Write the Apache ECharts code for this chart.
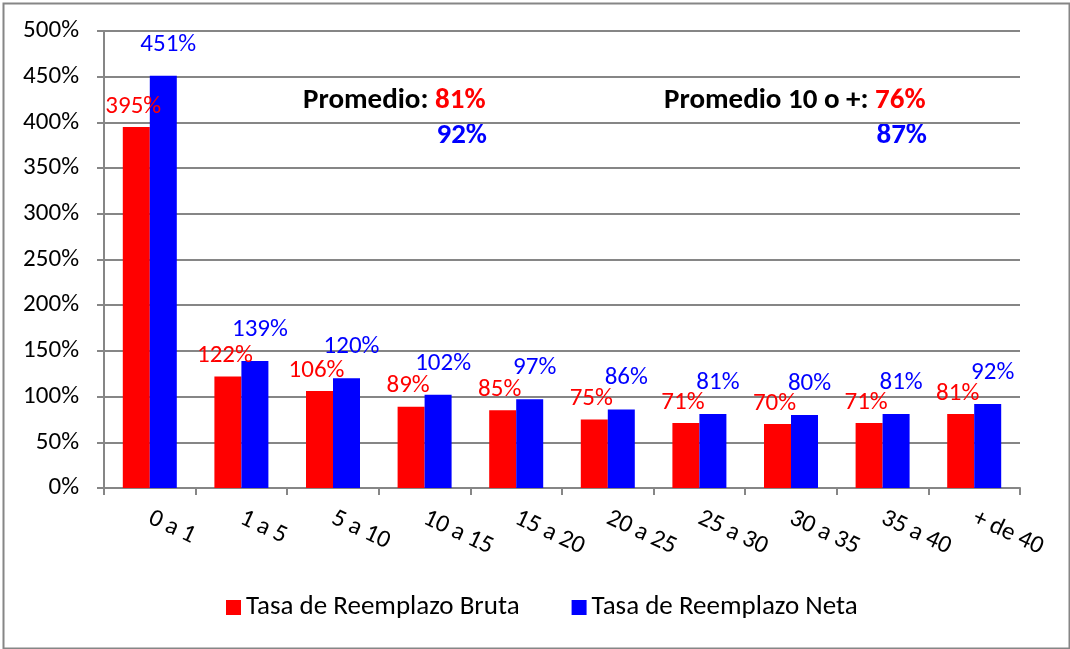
<!DOCTYPE html>
<html>
<head>
<meta charset="utf-8">
<script src="https://cdn.jsdelivr.net/npm/echarts@6/dist/echarts.min.js"></script>
<style>
  html, body { margin: 0; padding: 0; background: #fff; }
  #chart { width: 1070px; height: 649px; }
</style>
</head>
<body>
<div id="chart"></div>
<script>
  // tramos de años cotizados
  var categories = ['0 a 1', '1 a 5', '5 a 10', '10 a 15', '15 a 20', '20 a 25', '25 a 30', '30 a 35', '35 a 40', '+ de 40'];
  var brutaValues = [395, 122, 106, 89, 85, 75, 71, 70, 71, 81];
  var netaValues = [451, 139, 120, 102, 97, 86, 81, 80, 81, 92];
  var seriesNames = ['Tasa de Reemplazo Bruta', 'Tasa de Reemplazo Neta'];
  var promedio = { bruta: '81%', neta: '92%' };
  var promedio10 = { bruta: '76%', neta: '87%' };

  var FONT = 'Carlito, Calibri, Lato, sans-serif';

  var chart = echarts.init(document.getElementById('chart'));
  var option = {
    backgroundColor: '#fff',
    animation: false,
    textStyle: { fontFamily: FONT },
    grid: { left: 104, right: 50, top: 31, bottom: 161 },
    legend: {
      top: 589,
      left: 221,
      itemWidth: 15,
      itemHeight: 15,
      itemGap: 52,
      icon: 'rect',
      textStyle: { fontSize: 27, color: '#000', fontFamily: FONT },
      data: seriesNames
    },
    xAxis: {
      type: 'category',
      data: categories,
      axisLine: { lineStyle: { color: '#868686', width: 2 } },
      axisTick: { show: true, length: 7, lineStyle: { color: '#868686', width: 2 } },
      axisLabel: {
        rotate: -25,
        margin: 29,
        fontSize: 25,
        color: '#000',
        fontFamily: FONT
      }
    },
    yAxis: {
      type: 'value',
      min: 0,
      max: 500,
      interval: 50,
      axisLine: { show: true, lineStyle: { color: '#868686', width: 2 } },
      axisTick: { show: true, length: 7, lineStyle: { color: '#868686', width: 2 } },
      splitLine: { lineStyle: { color: '#868686', width: 2 } },
      axisLabel: {
        formatter: '{value}%',
        fontSize: 25,
        color: '#000',
        margin: 25,
        fontFamily: FONT
      }
    },
    series: [
      {
        name: seriesNames[0],
        type: 'bar',
        data: brutaValues,
        barWidth: 27,
        barGap: '0%',
        itemStyle: { color: '#FF0000' },
        label: {
          show: true,
          position: 'top',
          distance: 8,
          offset: [-3, 0],
          formatter: '{c}%',
          fontSize: 25,
          color: '#FF0000',
          fontFamily: FONT
        }
      },
      {
        name: seriesNames[1],
        type: 'bar',
        data: netaValues,
        barWidth: 27,
        barGap: '0%',
        itemStyle: { color: '#0000FF' },
        label: {
          show: true,
          position: 'top',
          distance: 19,
          offset: [5, 0],
          formatter: '{c}%',
          fontSize: 25,
          color: '#0000FF',
          fontFamily: FONT
        }
      }
    ],
    graphic: [
      {
        type: 'rect',
        left: 1, top: 1,
        shape: { width: 1066, height: 645 },
        style: { fill: 'none', stroke: '#868686', lineWidth: 2 },
        silent: true
      },
      {
        type: 'text',
        x: 303, y: 101,
        style: {
          text: '{k|Promedio: }{r|' + promedio.bruta + '}',
          verticalAlign: 'middle',
          rich: {
            k: { fontSize: 29, fontWeight: 'bold', fill: '#000', fontFamily: FONT },
            r: { fontSize: 29, fontWeight: 'bold', fill: '#FF0000', fontFamily: FONT }
          }
        }
      },
      {
        type: 'text',
        x: 487, y: 136,
        style: { text: promedio.neta, align: 'right', verticalAlign: 'middle', fontSize: 29, fontWeight: 'bold', fill: '#0000FF', fontFamily: FONT }
      },
      {
        type: 'text',
        x: 664, y: 101,
        style: {
          text: '{k|Promedio 10 o +: }{r|' + promedio10.bruta + '}',
          verticalAlign: 'middle',
          rich: {
            k: { fontSize: 29, fontWeight: 'bold', fill: '#000', fontFamily: FONT },
            r: { fontSize: 29, fontWeight: 'bold', fill: '#FF0000', fontFamily: FONT }
          }
        }
      },
      {
        type: 'text',
        x: 927, y: 136,
        style: { text: promedio10.neta, align: 'right', verticalAlign: 'middle', fontSize: 29, fontWeight: 'bold', fill: '#0000FF', fontFamily: FONT }
      }
    ]
  };
  chart.setOption(option);
  window.addEventListener('resize', function () { chart.resize(); });
</script>
</body>
</html>
